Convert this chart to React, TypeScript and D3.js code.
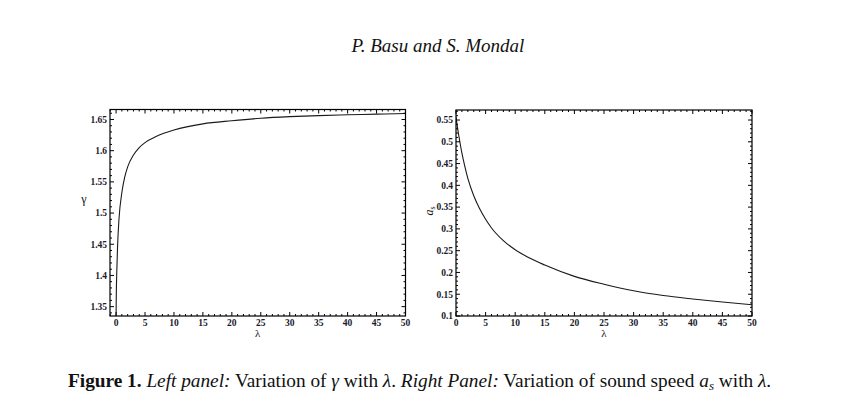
import * as d3 from "d3";

// gamma vs lambda (left panel)
const lambdaLeft = [0, 0.02, 0.05, 0.12, 0.25, 0.5, 1, 1.5, 2, 3, 4, 5, 7, 10, 15, 20, 25, 30, 35, 40, 45, 50];
const gammaValues = [1.333, 1.355, 1.376, 1.405, 1.445, 1.49, 1.533, 1.558, 1.574, 1.593, 1.605, 1.613, 1.623, 1.633, 1.643, 1.648, 1.652, 1.6545, 1.6562, 1.6575, 1.6586, 1.6595];

// sound speed vs lambda (right panel)
const lambdaRight = [0, 0.25, 0.5, 0.75, 1, 1.5, 2, 3, 4, 5, 6, 8, 10, 12, 15, 20, 25, 30, 35, 40, 45, 50];
const soundSpeed = [0.557, 0.533, 0.512, 0.492, 0.474, 0.443, 0.416, 0.376, 0.346, 0.322, 0.302, 0.273, 0.252, 0.236, 0.217, 0.191, 0.173, 0.158, 0.147, 0.139, 0.132, 0.126];

const lambdaTicks = ["0", "5", "10", "15", "20", "25", "30", "35", "40", "45", "50"];
const gammaTicks = ["1.35", "1.4", "1.45", "1.5", "1.55", "1.6", "1.65"];
const soundTicks = ["0.1", "0.15", "0.2", "0.25", "0.3", "0.35", "0.4", "0.45", "0.5", "0.55"];

const serif = "Liberation Serif";

interface PanelProps {
  id: string;
  left: number;
  right: number;
  top: number;
  bottom: number;
  xDomain: [number, number];
  yDomain: [number, number];
  xs: number[];
  ys: number[];
  yTicks: string[];
  yLabel: React.ReactNode;
}

function Panel({ id, left, right, top, bottom, xDomain, yDomain, xs, ys, yTicks, yLabel }: PanelProps) {
  const x = d3.scaleLinear().domain(xDomain).range([left, right]);
  const y = d3.scaleLinear().domain(yDomain).range([bottom, top]);

  const xMinor = d3.range(Math.ceil(xDomain[0]), xDomain[1] + 0.001, 1).filter((v) => v % 5 !== 0 && v > xDomain[0]);
  const yMinor = d3
    .range(Math.ceil(yDomain[0] * 100), Math.floor(yDomain[1] * 100) + 1)
    .filter((v) => v % 5 !== 0)
    .map((v) => v / 100);

  const line = d3
    .line<number>()
    .x((_, i) => x(xs[i]))
    .y((d) => y(d))
    .curve(d3.curveMonotoneX);

  const major = 4;
  const minor = 2;

  return (
    <g>
      <defs>
        <clipPath id={id}>
          <rect x={left} y={top} width={right - left} height={bottom - top} />
        </clipPath>
      </defs>
      <path d={line(ys) ?? ""} fill="none" stroke="#1a1a1a" strokeWidth={1.1} clipPath={`url(#${id})`} />
      <g stroke="#000" strokeWidth={1}>
        {lambdaTicks.map((t) => {
          const px = x(+t);
          return (
            <g key={"xm" + t}>
              <line x1={px} x2={px} y1={bottom} y2={bottom - major} />
              <line x1={px} x2={px} y1={top} y2={top + major} />
            </g>
          );
        })}
        {xMinor.map((v) => (
          <g key={"xn" + v}>
            <line x1={x(v)} x2={x(v)} y1={bottom} y2={bottom - minor} />
            <line x1={x(v)} x2={x(v)} y1={top} y2={top + minor} />
          </g>
        ))}
        {yTicks.map((t) => {
          const py = y(+t);
          return (
            <g key={"ym" + t}>
              <line x1={left} x2={left + major} y1={py} y2={py} />
              <line x1={right} x2={right - major} y1={py} y2={py} />
            </g>
          );
        })}
        {yMinor.map((v) => (
          <g key={"yn" + v}>
            <line x1={left} x2={left + minor} y1={y(v)} y2={y(v)} />
            <line x1={right} x2={right - minor} y1={y(v)} y2={y(v)} />
          </g>
        ))}
      </g>
      <rect x={left} y={top} width={right - left} height={bottom - top} fill="none" stroke="#000" strokeWidth={1.2} />
      <g fontFamily={serif} fontSize={9.5} fontWeight="bold" fill="#1a1a2a">
        {lambdaTicks.map((t) => (
          <text key={"xl" + t} x={x(+t)} y={bottom + 10} textAnchor="middle">
            {t}
          </text>
        ))}
        {yTicks.map((t) => (
          <text key={"yl" + t} x={left - 3} y={y(+t) + 3.3} textAnchor="end">
            {t}
          </text>
        ))}
      </g>
      <text x={(left + right) / 2} y={bottom + 21} textAnchor="middle" fontFamily={serif} fontSize={11} fill="#111">
        λ
      </text>
      {yLabel}
    </g>
  );
}

export default function App() {
  return (
    <svg width={858} height={418} style={{ position: "absolute", left: 0, top: 0, background: "#fff" }}>
      <rect width={858} height={418} fill="#fff" />
      <text x={438} y={52} textAnchor="middle" fontFamily={serif} fontStyle="italic" fontSize={19} fill="#111">
        P. Basu and S. Mondal
      </text>
      <Panel
        id="clipL"
        left={110}
        right={405.5}
        top={109.5}
        bottom={316}
        xDomain={[-1.05, 50]}
        yDomain={[1.335, 1.666]}
        xs={lambdaLeft}
        ys={gammaValues}
        yTicks={gammaTicks}
        yLabel={
          <text x={84} y={203} textAnchor="middle" fontFamily={serif} fontSize={12} fill="#111">
            γ
          </text>
        }
      />
      <Panel
        id="clipR"
        left={456}
        right={752}
        top={110}
        bottom={316}
        xDomain={[0, 50]}
        yDomain={[0.1, 0.573]}
        xs={lambdaRight}
        ys={soundSpeed}
        yTicks={soundTicks}
        yLabel={
          <text transform="translate(433,211) rotate(-90)" textAnchor="middle" fontFamily={serif} fontSize={12} fill="#111">
            <tspan fontStyle="italic">a</tspan>
            <tspan fontSize={8} dy={2}>s</tspan>
          </text>
        }
      />
      <text x={68} y={387} fontFamily={serif} fontSize={19.3} fill="#111">
        <tspan fontWeight="bold">Figure 1.</tspan>
        <tspan fontStyle="italic"> Left panel:</tspan>
        <tspan> Variation of </tspan>
        <tspan fontStyle="italic">γ</tspan>
        <tspan> with </tspan>
        <tspan fontStyle="italic">λ</tspan>
        <tspan>. </tspan>
        <tspan fontStyle="italic">Right Panel:</tspan>
        <tspan> Variation of sound speed </tspan>
        <tspan fontStyle="italic">a</tspan>
        <tspan fontStyle="italic" fontSize={13} dy={3}>s</tspan>
        <tspan dy={-3}> with </tspan>
        <tspan fontStyle="italic">λ</tspan>
        <tspan>.</tspan>
      </text>
    </svg>
  );
}
